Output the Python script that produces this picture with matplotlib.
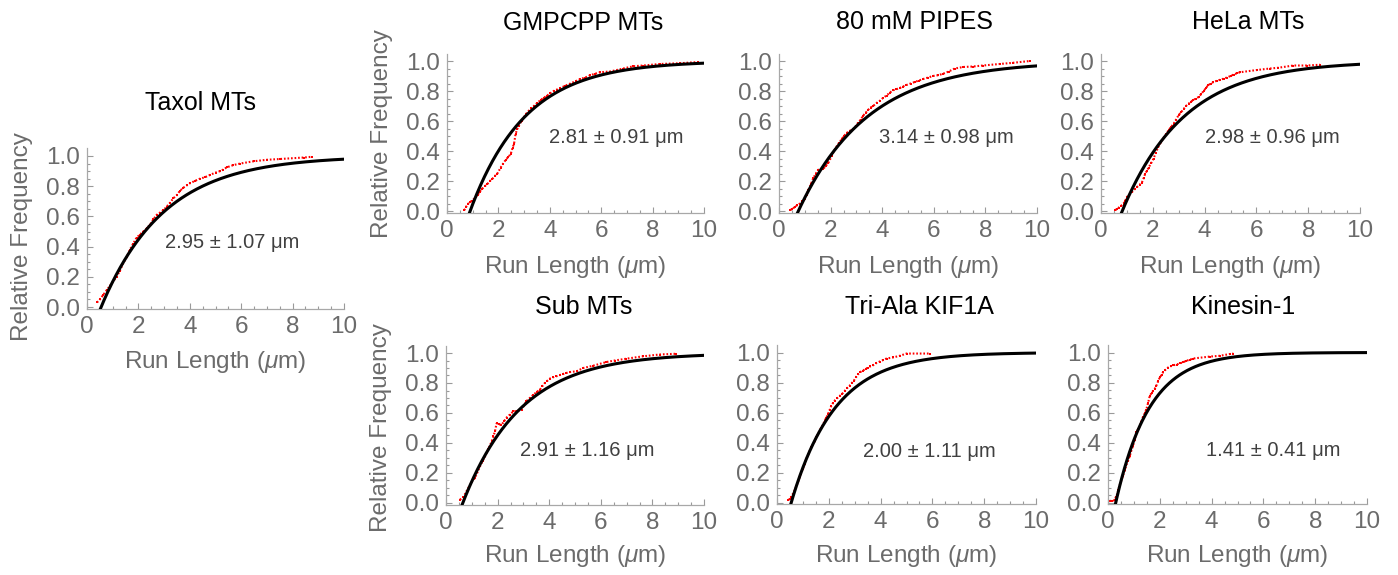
import matplotlib
matplotlib.use("Agg")
import matplotlib.pyplot as plt
import numpy as np

plt.rcParams['font.family'] = ['Liberation Sans', 'DejaVu Sans']
plt.rcParams['mathtext.fontset'] = 'custom'
plt.rcParams['mathtext.rm'] = 'Liberation Sans'
plt.rcParams['mathtext.it'] = 'Liberation Sans:italic'

W, H = 1398, 575

# panel names and the fitted run lengths written in each panel
titles = ['Taxol MTs', 'GMPCPP MTs', '80 mM PIPES', 'HeLa MTs',
          'Sub MTs', 'Tri-Ala KIF1A', 'Kinesin-1']
run_len = ['2.95 ± 1.07 μm', '2.81 ± 0.91 μm', '3.14 ± 0.98 μm', '2.98 ± 0.96 μm',
           '2.91 ± 1.16 μm', '2.00 ± 1.11 μm', '1.41 ± 0.41 μm']

# black fit curves: onset x0 and decay length
fit_x0 = [0.55, 0.90, 0.75, 0.82, 0.65, 0.55, 0.30]
fit_len = [2.45, 2.15, 2.70, 2.40, 2.25, 1.70, 1.30]

# red cumulative data (run length, relative frequency)
taxol_x = [0.39, 0.50, 0.63, 0.76, 0.89, 1.02, 1.15, 1.28, 1.41, 1.54, 1.67, 1.80, 1.93, 2.06, 2.19, 2.32,
           2.45, 2.58, 2.71, 2.84, 2.97, 3.10, 3.23, 3.36, 3.49, 3.62, 3.75, 3.88, 4.01, 4.20, 4.40, 4.60,
           4.79, 5.00, 5.18, 5.30, 5.44, 5.70, 5.96, 6.48, 7.00, 7.50, 8.44, 8.76]
taxol_y = [0.03, 0.05, 0.08, 0.11, 0.14, 0.17, 0.20, 0.24, 0.29, 0.33, 0.38, 0.42, 0.46, 0.48, 0.50, 0.52,
           0.545, 0.58, 0.61, 0.625, 0.64, 0.665, 0.69, 0.72, 0.74, 0.77, 0.79, 0.805, 0.82, 0.835, 0.85, 0.86,
           0.875, 0.89, 0.90, 0.91, 0.925, 0.94, 0.95, 0.965, 0.975, 0.98, 0.99, 0.995]

gmp_x = [0.67, 0.75, 0.80, 0.90, 0.99, 1.10, 1.19, 1.28, 1.38, 1.47, 1.57, 1.67, 1.77, 1.87, 1.96, 2.09,
         2.18, 2.28, 2.38, 2.48, 2.55, 2.61, 2.67, 2.73, 2.80, 2.90, 2.99, 3.09, 3.19, 3.28, 3.38, 3.51,
         3.64, 3.77, 3.90, 4.02, 4.15, 4.28, 4.41, 4.60, 4.80, 5.00, 5.19, 5.38, 5.57, 5.76, 5.96, 6.35,
         6.86, 7.25, 7.64, 8.28, 9.06, 9.77]
gmp_y = [0.005, 0.03, 0.045, 0.06, 0.07, 0.09, 0.105, 0.13, 0.15, 0.165, 0.18, 0.20, 0.215, 0.235, 0.25, 0.29,
         0.315, 0.34, 0.36, 0.38, 0.42, 0.45, 0.515, 0.545, 0.57, 0.60, 0.625, 0.65, 0.67, 0.685, 0.70, 0.72,
         0.74, 0.755, 0.77, 0.785, 0.80, 0.81, 0.82, 0.835, 0.85, 0.865, 0.88, 0.89, 0.905, 0.915, 0.925, 0.93,
         0.95, 0.965, 0.97, 0.98, 0.985, 0.993]

pipes_x = [0.43, 0.52, 0.62, 0.71, 0.81, 0.90, 1.00, 1.07, 1.14, 1.24, 1.33, 1.43, 1.52, 1.62, 1.72, 1.81,
           1.91, 2.04, 2.13, 2.23, 2.33, 2.43, 2.52, 2.62, 2.75, 2.88, 2.97, 3.07, 3.17, 3.26, 3.36, 3.46,
           3.55, 3.65, 3.78, 3.91, 4.04, 4.17, 4.30, 4.43, 4.55, 4.68, 4.81, 4.94, 5.10, 5.26, 5.42, 5.59,
           5.78, 5.97, 6.16, 6.36, 6.58, 6.81, 7.14, 7.50, 7.91, 8.55, 9.07, 9.72]
pipes_y = [0.005, 0.015, 0.027, 0.04, 0.05, 0.065, 0.083, 0.11, 0.14, 0.18, 0.22, 0.25, 0.275, 0.278, 0.28, 0.30,
           0.32, 0.365, 0.40, 0.43, 0.455, 0.48, 0.50, 0.52, 0.535, 0.545, 0.565, 0.59, 0.61, 0.635, 0.655, 0.675,
           0.69, 0.70, 0.72, 0.735, 0.755, 0.77, 0.79, 0.805, 0.812, 0.82, 0.83, 0.84, 0.85, 0.86, 0.87, 0.88,
           0.89, 0.90, 0.905, 0.915, 0.93, 0.95, 0.96, 0.963, 0.97, 0.98, 0.988, 1.0]

hela_x = [0.55, 0.62, 0.68, 0.78, 0.87, 0.94, 1.00, 1.10, 1.20, 1.30, 1.39, 1.49, 1.58, 1.65, 1.71, 1.78,
          1.84, 1.94, 2.03, 2.12, 2.22, 2.32, 2.42, 2.52, 2.61, 2.70, 2.80, 2.90, 3.00, 3.10, 3.19, 3.28,
          3.38, 3.48, 3.57, 3.67, 3.77, 3.87, 3.96, 4.05, 4.15, 4.25, 4.34, 4.47, 4.60, 4.73, 4.86, 5.00,
          5.12, 5.25, 5.37, 6.02, 6.53, 6.85, 7.43, 7.94, 8.46]
hela_y = [0.005, 0.015, 0.022, 0.035, 0.05, 0.07, 0.093, 0.11, 0.127, 0.145, 0.16, 0.175, 0.19, 0.22, 0.25, 0.27,
          0.29, 0.32, 0.35, 0.39, 0.43, 0.46, 0.49, 0.515, 0.54, 0.56, 0.58, 0.61, 0.64, 0.66, 0.68, 0.70,
          0.715, 0.73, 0.74, 0.75, 0.76, 0.78, 0.80, 0.82, 0.84, 0.85, 0.86, 0.868, 0.875, 0.882, 0.89, 0.90,
          0.91, 0.918, 0.925, 0.94, 0.95, 0.955, 0.97, 0.97, 0.975]

sub_x = [0.54, 0.67, 0.80, 0.93, 1.02, 1.12, 1.22, 1.32, 1.42, 1.51, 1.64, 1.77, 1.84, 1.90, 1.96, 2.05,
         2.15, 2.25, 2.35, 2.48, 2.61, 2.77, 2.93, 3.02, 3.12, 3.25, 3.38, 3.51, 3.64, 3.74, 3.83, 3.93,
         4.03, 4.15, 4.28, 4.41, 4.54, 4.67, 4.80, 5.06, 5.32, 5.70, 6.22, 6.54, 6.99, 7.64, 8.28, 8.93]
sub_y = [0.022, 0.038, 0.08, 0.12, 0.145, 0.167, 0.205, 0.245, 0.28, 0.31, 0.36, 0.41, 0.445, 0.48, 0.53, 0.525,
         0.52, 0.545, 0.57, 0.59, 0.61, 0.615, 0.62, 0.65, 0.68, 0.70, 0.72, 0.74, 0.755, 0.78, 0.80, 0.815,
         0.83, 0.838, 0.845, 0.853, 0.86, 0.867, 0.873, 0.878, 0.90, 0.915, 0.94, 0.95, 0.962, 0.978, 0.99, 0.995]

tri_x = [0.43, 0.49, 0.55, 0.62, 0.68, 0.75, 0.81, 0.90, 1.00, 1.07, 1.13, 1.23, 1.33, 1.40, 1.46, 1.52,
         1.59, 1.65, 1.71, 1.78, 1.84, 1.90, 1.97, 2.04, 2.10, 2.17, 2.23, 2.32, 2.42, 2.52, 2.62, 2.72,
         2.81, 2.88, 2.96, 3.05, 3.13, 3.22, 3.32, 3.42, 3.52, 3.61, 3.71, 3.84, 3.97, 4.10, 4.23, 4.48,
         4.74, 5.00, 5.90]
tri_y = [0.015, 0.025, 0.038, 0.06, 0.082, 0.11, 0.137, 0.18, 0.225, 0.26, 0.29, 0.33, 0.37, 0.39, 0.41, 0.435,
         0.46, 0.48, 0.50, 0.52, 0.545, 0.565, 0.59, 0.62, 0.646, 0.665, 0.68, 0.695, 0.71, 0.725, 0.745, 0.765,
         0.78, 0.795, 0.81, 0.835, 0.855, 0.87, 0.88, 0.89, 0.90, 0.908, 0.915, 0.93, 0.94, 0.95, 0.96, 0.967,
         0.978, 0.993, 0.993]

kin_x = [0.06, 0.16, 0.26, 0.30, 0.35, 0.40, 0.45, 0.52, 0.58, 0.65, 0.71, 0.78, 0.84, 0.90, 0.97, 1.03,
         1.10, 1.17, 1.23, 1.29, 1.35, 1.42, 1.48, 1.55, 1.61, 1.68, 1.74, 1.81, 1.87, 1.94, 2.00, 2.07,
         2.13, 2.22, 2.32, 2.42, 2.52, 2.65, 2.77, 2.90, 3.03, 3.16, 3.29, 3.94, 4.32, 4.71, 4.84]
kin_y = [0.01, 0.012, 0.015, 0.035, 0.053, 0.085, 0.115, 0.15, 0.18, 0.215, 0.25, 0.28, 0.31, 0.345, 0.38, 0.42,
         0.47, 0.49, 0.51, 0.54, 0.57, 0.595, 0.62, 0.665, 0.71, 0.73, 0.745, 0.76, 0.78, 0.81, 0.834, 0.85,
         0.87, 0.885, 0.90, 0.908, 0.915, 0.92, 0.927, 0.935, 0.945, 0.952, 0.96, 0.973, 0.978, 0.99, 0.993]

data_x = [taxol_x, gmp_x, pipes_x, hela_x, sub_x, tri_x, kin_x]
data_y = [taxol_y, gmp_y, pipes_y, hela_y, sub_y, tri_y, kin_y]

# layout in pixels: left, right, y of 1.0, y of 0.0
boxes = [(87, 344, 156, 307), (447, 704, 61, 211), (779, 1037, 61, 211), (1101, 1360, 61, 211),
         (446, 704, 353, 503), (777, 1036, 352.5, 502.5), (1108, 1367, 352.5, 502.5)]
title_pos = [(200, 103), (583, 22.5), (914, 22), (1248, 22), (584, 307.5), (919, 307), (1243, 307)]
note_pos = [(5.64, 0.43), (6.6, 0.49), (6.5, 0.49), (6.6, 0.49), (5.47, 0.35), (5.87, 0.34), (6.37, 0.35)]
xlabel_y = [362, 267, 267, 267, 556, 556, 556]
ylabel_y = [237, 133.5, None, None, 427.5, None, None]

YLO, YHI = -0.011, 1.05
grey = '#6b6b6b'

fig = plt.figure(figsize=(W / 100, H / 100), dpi=100)

for i in range(7):
    l, r, y1, y0 = boxes[i]
    sc = y0 - y1
    top = y1 - (YHI - 1) * sc
    bot = y0 - YLO * sc
    ax = fig.add_axes([l / W, 1 - bot / H, (r - l) / W, (bot - top) / H])

    xs = np.linspace(fit_x0[i] - 0.05, 10, 300)
    ax.plot(xs, 1 - np.exp(-(xs - fit_x0[i]) / fit_len[i]), color='black', lw=2.2, zorder=3)
    ax.plot(data_x[i], data_y[i], color='red', lw=1.5, ls=(0, (0.8, 0.9)), zorder=2)
    ax.plot(data_x[i], data_y[i], 's', color='red', ms=1.8, mew=0, zorder=2)

    ax.set_xlim(0, 10)
    ax.set_ylim(YLO, YHI)
    ax.set_xticks([0, 2, 4, 6, 8, 10])
    ax.set_xticklabels(['0', '2', '4', '6', '8', '10'])
    ax.set_xticks(np.arange(0, 10.01, 0.5), minor=True)
    ax.set_yticks([0, 0.2, 0.4, 0.6, 0.8, 1.0])
    ax.set_yticklabels(['0.0', '0.2', '0.4', '0.6', '0.8', '1.0'])
    ax.set_yticks(np.arange(0, 1.001, 0.05), minor=True)
    ax.tick_params(which='both', direction='in', colors='#9a9a9a', labelcolor=grey,
                   labelsize=17.5, width=0.8)
    ax.tick_params(which='major', length=4)
    ax.tick_params(which='minor', length=2.2)
    ax.tick_params(axis='x', pad=5)
    ax.tick_params(axis='y', pad=5)
    for s in ['top', 'right']:
        ax.spines[s].set_visible(False)
    for s in ['left', 'bottom']:
        ax.spines[s].set_color('#a8a8a8')
        ax.spines[s].set_linewidth(0.9)
    ax.patch.set_alpha(0)

    ax.text(note_pos[i][0], note_pos[i][1], run_len[i], ha='center', va='center',
            fontsize=14.5, color='#404040')

    fig.text(title_pos[i][0] / W, 1 - title_pos[i][1] / H, titles[i], ha='center', va='center',
             fontsize=18, color='black')
    fig.text((l + r) / 2 / W, 1 - xlabel_y[i] / H, 'Run Length ($\\mu$m)', ha='center', va='center',
             fontsize=17.5, color=grey)
    if ylabel_y[i] is not None:
        fig.text((l - 64.5) / W, 1 - ylabel_y[i] / H, 'Relative Frequency', ha='center', va='center',
                 rotation=90, fontsize=17.5, color=grey)

fig.savefig('out.png', dpi=100)
